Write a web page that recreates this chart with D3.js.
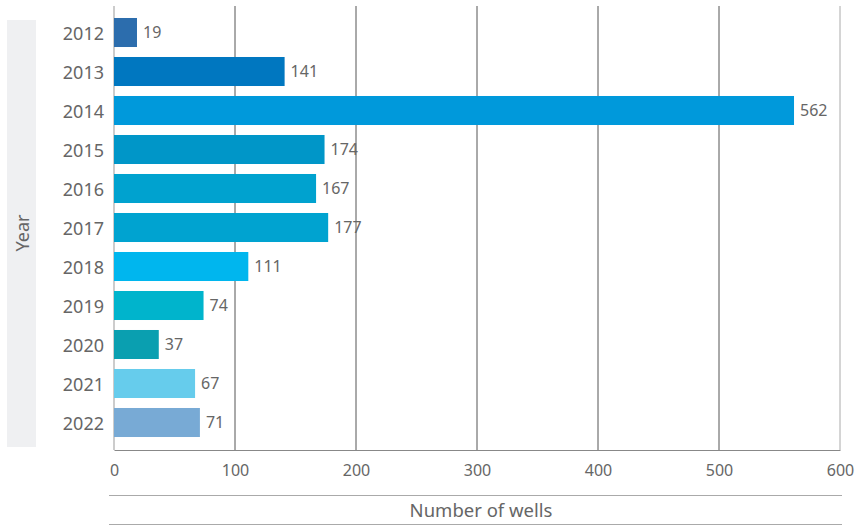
<!DOCTYPE html>
<html lang="en">
<head>
    <meta charset="UTF-8">
    <script src="https://d3js.org/d3.v7.min.js"></script>
    <title>Number of wells by year</title>
    <style>
        body {
            margin: 0;
            padding: 0;
            background: #fff;
            font-family: "Noto Sans", "Open Sans", sans-serif;
        }
        .tick text {
            fill: #666;
        }
    </style>
</head>
<body>
    <div id="chart"></div>
    <script>
        // data
        var years = ["2012", "2013", "2014", "2015", "2016", "2017", "2018", "2019", "2020", "2021", "2022"];
        var wells = [19, 141, 562, 174, 167, 177, 111, 74, 37, 67, 71];
        var barColors = ["#2c6dad", "#0077c0", "#0099db", "#0096c8", "#00a2cf", "#00a3d0",
            "#00b6ee", "#00b4cc", "#0a9fb0", "#66ccec", "#78aad5"];
        var xTicks = [0, 100, 200, 300, 400, 500, 600];

        var width = 863, height = 526;
        var plotLeft = 114, plotRight = 840, plotTop = 6, plotBottom = 450;

        var svg = d3.select("#chart")
            .append("svg")
            .attr("width", width)
            .attr("height", height);

        var x = d3.scaleLinear()
            .domain([0, 600])
            .range([plotLeft, plotRight]);

        var y = d3.scaleBand()
            .domain(years)
            .range([13, 442])
            .paddingInner(0.256)
            .paddingOuter(0.128);

        // grey box behind the y title
        svg.append("rect")
            .attr("x", 7).attr("y", 20)
            .attr("width", 29).attr("height", 427)
            .attr("fill", "#eff0f2");
        svg.append("text")
            .attr("transform", "translate(29,233) rotate(-90)")
            .attr("text-anchor", "middle")
            .attr("fill", "#666")
            .style("font-size", "18px")
            .text("Year");

        // gridlines
        svg.append("g")
            .selectAll("line")
            .data(xTicks.slice(1))
            .enter()
            .append("line")
            .attr("x1", function (d) { return x(d); })
            .attr("x2", function (d) { return x(d); })
            .attr("y1", plotTop)
            .attr("y2", plotBottom)
            .attr("stroke", function (d) { return d === 600 ? "#aaa" : "#555"; })
            .attr("stroke-width", 1);

        // left axis line
        svg.append("line")
            .attr("x1", plotLeft).attr("x2", plotLeft)
            .attr("y1", plotTop).attr("y2", plotBottom)
            .attr("stroke", "#999");

        // bottom axis
        var xAxis = svg.append("g")
            .attr("transform", "translate(0," + plotBottom + ")")
            .call(d3.axisBottom(x).tickValues(xTicks).tickSize(0).tickPadding(15));
        xAxis.select(".domain").attr("stroke", "#888");
        xAxis.selectAll("text")
            .style("font-size", "16px")
            .style("font-family", "'Noto Sans', sans-serif");

        // y axis labels
        var yAxis = svg.append("g")
            .attr("transform", "translate(" + (plotLeft - 10) + ",2)")
            .call(d3.axisLeft(y).tickSize(0).tickPadding(0));
        yAxis.select(".domain").remove();
        yAxis.selectAll("text")
            .style("font-size", "18px")
            .style("font-family", "'Noto Sans', sans-serif");

        var rows = years.map(function (yr, i) {
            return { year: yr, value: wells[i], color: barColors[i] };
        });

        // bars
        svg.append("g")
            .selectAll("rect")
            .data(rows)
            .enter()
            .append("rect")
            .attr("x", x(0))
            .attr("y", function (d) { return y(d.year); })
            .attr("width", function (d) { return x(d.value) - x(0); })
            .attr("height", y.bandwidth())
            .attr("fill", function (d) { return d.color; });

        // value labels
        svg.append("g")
            .selectAll("text")
            .data(rows)
            .enter()
            .append("text")
            .attr("x", function (d) { return x(d.value) + 6; })
            .attr("y", function (d) { return y(d.year) + y.bandwidth() / 2; })
            .attr("dy", "0.36em")
            .attr("fill", "#666")
            .style("font-size", "16px")
            .text(function (d) { return d.value; });

        // x title between two rules
        svg.append("line")
            .attr("x1", 109).attr("x2", 842)
            .attr("y1", 495.5).attr("y2", 495.5)
            .attr("stroke", "#aaa");
        svg.append("line")
            .attr("x1", 109).attr("x2", 842)
            .attr("y1", 524.5).attr("y2", 524.5)
            .attr("stroke", "#aaa");
        svg.append("text")
            .attr("x", 481).attr("y", 510)
            .attr("dy", "0.36em")
            .attr("text-anchor", "middle")
            .attr("fill", "#666")
            .style("font-size", "18.5px")
            .text("Number of wells");
    </script>
</body>
</html>
